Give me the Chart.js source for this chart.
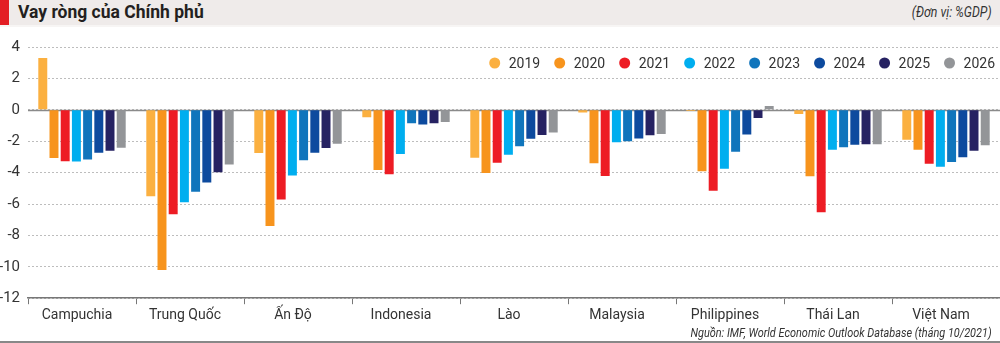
<!DOCTYPE html>
<html lang="vi">
<head>
<meta charset="utf-8">
<title>Vay ròng của Chính phủ</title>
<script src="https://cdn.jsdelivr.net/npm/chart.js@4/dist/chart.umd.min.js"></script>
<style>
  html, body { margin: 0; padding: 0; background: #fff; }
  #khung { position: relative; width: 1000px; height: 343px; overflow: hidden; }
  #tieude {
    position: absolute; left: 0; top: 0; width: 1000px; height: 25px;
    background: #efebea; border-bottom: 2px solid #f7f5f4;
  }
  #tieude .vach { position: absolute; left: 0; top: 0; width: 9px; height: 25px; background: #e31e24; }
  #tieude .ten {
    position: absolute; left: 18px; top: 2px;
    font: bold 17.5px Roboto, "Noto Sans", sans-serif; color: #231f20;
  }
  #tieude .donvi {
    position: absolute; right: 8px; top: 4px;
    font: italic 14px Roboto, sans-serif; color: #333;
    transform: scaleX(0.88); transform-origin: right center;
  }
  #nguon {
    position: absolute; right: 8px; top: 325px;
    font: italic 13px Roboto, sans-serif; color: #333;
    transform: scaleX(0.84); transform-origin: right center;
  }
  #duoi { position: absolute; left: 0; top: 341px; width: 1000px; height: 2px; background: #888; }
  #bieudo { position: absolute; left: 0; top: 0; }
</style>
</head>
<body>
<div id="khung">
  <canvas id="bieudo" width="1000" height="343"></canvas>
  <div id="tieude">
    <div class="vach"></div>
    <div class="ten">Vay ròng của Chính phủ</div>
    <div class="donvi">(Đơn vị: %GDP)</div>
  </div>
  <div id="nguon">Nguồn: IMF, World Economic Outlook Database (tháng 10/2021)</div>
  <div id="duoi"></div>
</div>

<script>
// DỮ LIỆU: QUỐC GIA, NĂM, MÀU VÀ GIÁ TRỊ (%GDP) THEO TỪNG NĂM.
const quocGia = ['Campuchia', 'Trung Quốc', 'Ấn Độ', 'Indonesia', 'Lào', 'Malaysia', 'Philippines', 'Thái Lan', 'Việt Nam'];
const cacNam = ['2019', '2020', '2021', '2022', '2023', '2024', '2025', '2026'];
const mauNam = ['#fbb040', '#f7941d', '#ed1c24', '#00aeef', '#1075bc', '#0d4a9e', '#262262', '#939598'];

const v2019 = [3.3, -5.5, -2.75, -0.48, -3.05, -0.17, -0.08, -0.27, -1.9];
const v2020 = [-3.07, -10.2, -7.4, -3.83, -4.02, -3.41, -3.92, -4.23, -2.55];
const v2021 = [-3.28, -6.65, -5.71, -4.1, -3.37, -4.21, -5.16, -6.53, -3.43];
const v2022 = [-3.3, -5.89, -4.19, -2.82, -2.86, -2.06, -3.75, -2.55, -3.62];
const v2023 = [-3.16, -5.22, -3.22, -0.86, -2.32, -2.0, -2.67, -2.38, -3.33];
const v2024 = [-2.74, -4.63, -2.74, -0.93, -1.85, -1.83, -1.58, -2.23, -3.03];
const v2025 = [-2.61, -3.98, -2.44, -0.86, -1.6, -1.62, -0.53, -2.19, -2.61];
const v2026 = [-2.42, -3.49, -2.17, -0.78, -1.45, -1.54, 0.25, -2.19, -2.25];

const nhanTrucY = ['4', '2', '0', '-2', '-4', '-6', '-8', '-10', '-12'];

const giaTri = [v2019, v2020, v2021, v2022, v2023, v2024, v2025, v2026];
const chu = 'Roboto, "Noto Sans", sans-serif';

// PLUGIN VẼ ĐƯỜNG SỐ 0 LIỀN NÉT.
const duongKhong = {
    id: 'duongKhong',
    beforeDatasetsDraw(chart) {
        const { ctx, chartArea, scales } = chart;
        const y = Math.round(scales.y.getPixelForValue(0)) + 0.5;
        ctx.save();
        ctx.strokeStyle = '#8a8a8a';
        ctx.lineWidth = 1.5;
        ctx.beginPath();
        ctx.moveTo(chartArea.left, y);
        ctx.lineTo(chartArea.right, y);
        ctx.stroke();
        ctx.restore();
    }
};

// PLUGIN VẼ CHÚ GIẢI NẰM TRONG VÙNG BIỂU ĐỒ (GÓC TRÊN BÊN PHẢI).
const chuGiai = {
    id: 'chuGiai',
    afterDatasetsDraw(chart) {
        const { ctx, chartArea } = chart;
        const ds = chart.data.datasets;
        const yTam = chartArea.top + 16;
        let phai = chartArea.right - 5;
        ctx.save();
        ctx.font = '14px ' + chu;
        ctx.textBaseline = 'middle';
        ctx.textAlign = 'left';
        for (let i = ds.length - 1; i >= 0; i--) {
            const w = ctx.measureText(ds[i].label).width;
            const xChu = phai - w;
            const xTron = xChu - 14;
            ctx.fillStyle = '#333';
            ctx.fillText(ds[i].label, xChu, yTam + 1);
            ctx.fillStyle = ds[i].backgroundColor;
            ctx.beginPath();
            ctx.arc(xTron, yTam, 5.5, 0, Math.PI * 2);
            ctx.fill();
            phai = xTron - 5.5 - 14;
        }
        ctx.restore();
    }
};

const datasets = cacNam.map((nam, i) => ({
    label: nam,
    data: giaTri[i],
    backgroundColor: mauNam[i],
    borderWidth: 0,
    categoryPercentage: 0.83,
    barPercentage: 0.8
}));

new Chart(document.getElementById('bieudo'), {
    type: 'bar',
    data: { labels: quocGia, datasets: datasets },
    options: {
        responsive: false,
        animation: false,
        layout: { padding: { top: 47, right: 0, bottom: 16, left: 0 } },
        plugins: {
            tooltip: { enabled: false },
            legend: { display: false }
        },
        scales: {
            x: {
                grid: { drawOnChartArea: false, drawTicks: true, tickLength: 6, color: '#777' },
                border: { display: true, color: '#777', width: 1.5 },
                ticks: { color: '#333', padding: 3, labelOffset: -5, font: { family: chu, size: 14 } }
            },
            y: {
                min: -12,
                max: 4,
                afterFit(scale) { scale.width = 28; },
                grid: { color: '#bdbdbd', drawTicks: false, lineWidth: 1 },
                border: { display: false, dash: [2, 2] },
                ticks: {
                    stepSize: 2,
                    color: '#333',
                    padding: 8,
                    font: { family: chu, size: 15 },
                    callback: (v) => nhanTrucY.includes(String(v)) ? String(v) : ''
                }
            }
        }
    },
    plugins: [duongKhong, chuGiai]
});
</script>
</body>
</html>
